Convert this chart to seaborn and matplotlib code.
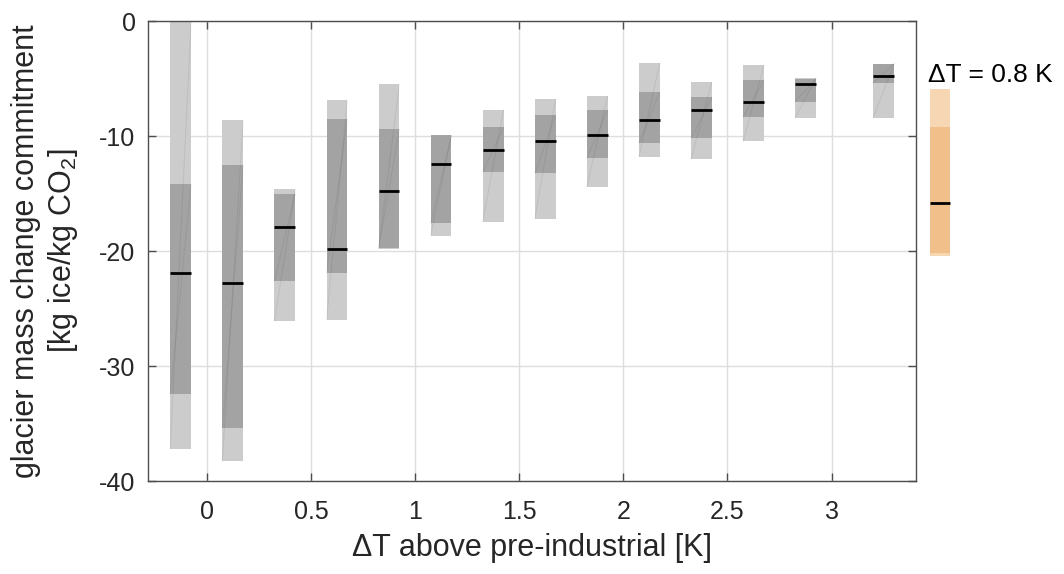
import numpy as np
import pandas as pd
import matplotlib
matplotlib.use("Agg")
import matplotlib.pyplot as plt
import seaborn as sns

# Warming bins (bin centres, K)
dT = [-0.125, 0.125, 0.375, 0.625, 0.875, 1.125, 1.375, 1.625,
      1.875, 2.125, 2.375, 2.625, 2.875, 3.25]
# Commitment percentiles [kg ice / kg CO2]
p_low = [-37.2, -38.3, -26.1, -26.0, -19.8, -18.7, -17.45, -17.2,
         -14.4, -11.8, -12.0, -10.45, -8.4, -8.4]
q_low = [-32.4, -35.4, -22.6, -21.9, -19.75, -17.6, -13.1, -13.25,
         -11.9, -10.6, -10.2, -8.35, -7.0, -5.4]
median = [-21.9, -22.8, -17.9, -19.85, -14.75, -12.4, -11.2, -10.45,
          -9.95, -8.6, -7.75, -7.05, -5.5, -4.8]
q_high = [-14.2, -12.5, -15.0, -8.5, -9.4, -9.95, -9.25, -8.2,
          -7.75, -6.2, -6.65, -5.15, -5.05, -3.7]
p_high = [0.0, -8.6, -14.6, -6.9, -5.5, -9.9, -7.7, -6.8,
          -6.5, -3.65, -5.3, -3.85, -4.95, -3.7]

# Present-day warming reference
ref_dT = 0.8
ref_pos = 3.52
ref_p_low, ref_q_low, ref_median, ref_q_high, ref_p_high = -20.4, -20.2, -15.8, -9.25, -5.95

df = pd.DataFrame(dict(dT=dT, p_low=p_low, q_low=q_low, median=median,
                       q_high=q_high, p_high=p_high))

sns.set_theme(style="white")
plt.rcParams["font.family"] = ["Liberation Sans", "DejaVu Sans"]
plt.rcParams["mathtext.fontset"] = "custom"
plt.rcParams["mathtext.rm"] = "Liberation Sans"

ink = "#262626"
fig = plt.figure(figsize=(10.64, 5.74), dpi=100)
ax = fig.add_axes([0.1391, 0.162, 0.7218, 0.8014])

w = 0.1
light = "#cccccc"
dark = "#a3a3a3"

ax.bar(df["dT"], df["p_high"] - df["p_low"], bottom=df["p_low"], width=w,
       color=light, linewidth=0, zorder=2)
ax.bar(df["dT"], df["q_high"] - df["q_low"], bottom=df["q_low"], width=w,
       color=dark, linewidth=0, zorder=3)
# faint triangulation seams across each box
for _, r in df.iterrows():
    ax.plot([r.dT - w / 2, r.dT + w / 2], [r.p_low, r.p_high], color="k",
            alpha=0.07, lw=0.8, zorder=4)
    ax.plot([r.dT - w / 2, r.dT + w / 2], [r.q_low, r.q_high], color="k",
            alpha=0.07, lw=0.8, zorder=4)
ax.hlines(df["median"], df["dT"] - w / 2, df["dT"] + w / 2, color="black",
          lw=2.0, zorder=5)

# reference box for present-day warming
ax.bar([ref_pos], [ref_p_high - ref_p_low], bottom=[ref_p_low], width=w,
       color="#f6d6b3", linewidth=0, clip_on=False, zorder=2)
ax.bar([ref_pos], [ref_q_high - ref_q_low], bottom=[ref_q_low], width=w,
       color="#f1c08a", linewidth=0, clip_on=False, zorder=3)
ax.hlines([ref_median], ref_pos - w / 2, ref_pos + w / 2, color="black",
          lw=2.0, clip_on=False, zorder=5)
ax.text(ref_pos - w / 2 - 0.005, -4.7, f"\u0394T = {ref_dT} K", fontsize=19,
        color="black", ha="left", va="center", clip_on=False)

ax.set_xlim(-0.282, 3.405)
ax.set_ylim(-40, 0)
ax.set_xticks([0, 0.5, 1, 1.5, 2, 2.5, 3])
ax.set_xticklabels(["0", "0.5", "1", "1.5", "2", "2.5", "3"])
ax.set_yticks([-40, -30, -20, -10, 0])
ax.set_yticklabels(["-40", "-30", "-20", "-10", "0"])
ax.grid(True, color="#dedede", lw=1.0, zorder=0)
ax.set_axisbelow(True)

for s in ax.spines.values():
    s.set_color("#4d4d4d")
    s.set_linewidth(1.0)
ax.tick_params(direction="in", length=6, width=1.0, color="#4d4d4d",
               top=True, right=True, bottom=True, left=True,
               labelsize=18, labelcolor=ink)
ax.tick_params(axis="x", pad=14)
ax.tick_params(axis="y", pad=9)

ax.set_xlabel("\u0394T above pre-industrial [K]", fontsize=22, color=ink,
              labelpad=6)
ax.set_ylabel("glacier mass change commitment\n[kg ice/kg CO$_\\mathregular{2}$]",
              fontsize=22, color=ink, labelpad=14, linespacing=1.2)

fig.savefig("out.png", dpi=100)
